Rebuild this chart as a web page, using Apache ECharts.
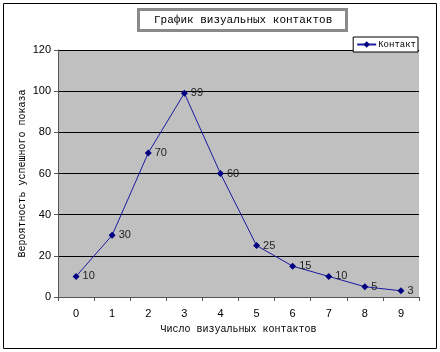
<!DOCTYPE html>
<html>
<head>
<meta charset="utf-8">
<script src="https://cdn.jsdelivr.net/npm/echarts@6/dist/echarts.min.js"></script>
<style>
  html, body { margin: 0; padding: 0; background: #fff; }
  #chart { width: 440px; height: 352px; }
</style>
</head>
<body>
<div id="chart"></div>
<script>
    // данные графика
    var contacts = ['0', '1', '2', '3', '4', '5', '6', '7', '8', '9'];
    var probability = [10, 30, 70, 99, 60, 25, 15, 10, 5, 3];
    var yTicks = [0, 20, 40, 60, 80, 100, 120];

    var chart = echarts.init(document.getElementById('chart'));
    var mono = '"Liberation Mono", "Courier New", monospace';
    var sans = '"Liberation Sans", Arial, sans-serif';

    var option = {
        animation: false,
        backgroundColor: '#fff',
        graphic: [{
            type: 'rect',
            shape: { x: 3.5, y: 3.5, width: 433, height: 345 },
            style: { fill: 'none', stroke: '#000', lineWidth: 1 }
        }],
        title: {
            text: 'График визуальных контактов',
            left: 138,
            top: 9,
            padding: [6, 15, 5, 16],
            borderColor: '#8a8a8a',
            borderWidth: 3,
            backgroundColor: '#fff',
            textStyle: {
                fontFamily: mono,
                fontSize: 11,
                fontWeight: 'normal',
                color: '#000'
            }
        },
        legend: {
            right: 22,
            top: 37,
            itemWidth: 19,
            itemHeight: 8,
            itemGap: 4,
            padding: [3, 2, 3, 3],
            borderColor: '#000',
            borderWidth: 1,
            backgroundColor: '#fff',
            textStyle: { fontFamily: mono, fontSize: 9, color: '#000', padding: [0, 0, 0, -3] },
            data: ['Контакт']
        },
        grid: {
            left: 58,
            right: 21,
            top: 50,
            bottom: 55,
            show: true,
            backgroundColor: '#c0c0c0',
            borderWidth: 0
        },
        xAxis: {
            type: 'category',
            data: contacts,
            boundaryGap: true,
            name: 'Число визуальных контактов',
            nameLocation: 'middle',
            nameGap: 27,
            nameMoveOverlap: false,
            nameTextStyle: { fontFamily: mono, fontSize: 10, color: '#000' },
            axisLine: { lineStyle: { color: '#555', width: 1 } },
            axisTick: { show: true, inside: false, length: 4, lineStyle: { color: '#555' } },
            axisLabel: { fontFamily: sans, fontSize: 11, color: '#000', margin: 11 }
        },
        yAxis: {
            type: 'value',
            min: 0,
            max: 120,
            interval: 20,
            name: 'Вероятность успешного показа',
            nameLocation: 'middle',
            nameGap: 31,
            nameMoveOverlap: false,
            nameTextStyle: { fontFamily: mono, fontSize: 10, color: '#000' },
            axisLine: { show: true, lineStyle: { color: '#555', width: 1 } },
            axisTick: { show: true, length: 4, lineStyle: { color: '#555' } },
            axisLabel: {
                fontFamily: sans, fontSize: 11, color: '#000', margin: 7,
                formatter: function (v) { return yTicks.indexOf(v) >= 0 ? String(v) : ''; }
            },
            splitLine: { show: true, lineStyle: { color: '#000', width: 1 } }
        },
        series: [{
            name: 'Контакт',
            type: 'line',
            data: probability,
            symbol: 'diamond',
            symbolSize: 7,
            color: '#000080',
            lineStyle: { color: '#1a1aa0', width: 1 },
            itemStyle: { color: '#000080' },
            label: {
                show: true,
                position: 'right',
                distance: 3,
                fontFamily: sans,
                fontSize: 11,
                color: '#222'
            }
        }]
    };
    chart.setOption(option);
</script>
</body>
</html>
